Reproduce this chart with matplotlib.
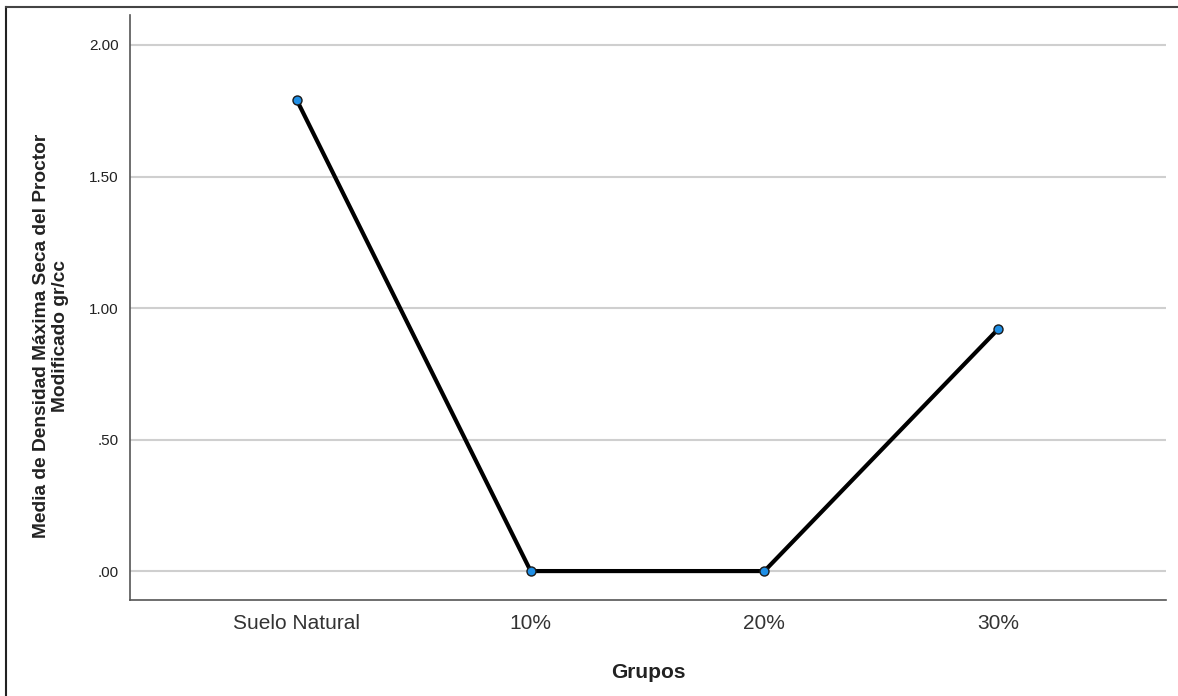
import matplotlib
matplotlib.use("Agg")
import matplotlib.pyplot as plt
from matplotlib.lines import Line2D

# datos
grupos = ["Suelo Natural", "10%", "20%", "30%"]
medias = [1.79, 0.0, 0.0, 0.92]
yticks = [0.0, 0.5, 1.0, 1.5, 2.0]
ytick_labels = [".00", ".50", "1.00", "1.50", "2.00"]

plt.rcParams['font.family'] = ['Liberation Sans', 'DejaVu Sans']

W, H = 1178, 696
fig = plt.figure(figsize=(W/100, H/100), dpi=100)
ax = fig.add_axes([130/W, 1-600/H, (1166-130)/W, (600-15)/H])

x = list(range(len(grupos)))
ax.plot(x, medias, color="black", lw=3, zorder=3)
ax.plot(x, medias, 'o', ms=6.5, mfc="#1f8fe6", mec="#1a1a1a", mew=1, zorder=4)

ax.set_xlim(-0.714, 3.718)
ax.set_ylim(-0.110, 2.114)
ax.set_yticks(yticks)
ax.set_yticklabels(ytick_labels, fontsize=11, color="#222222")
ax.set_xticks(x)
ax.set_xticklabels(grupos, fontsize=15, color="#333333")
ax.tick_params(axis='both', length=0)
ax.tick_params(axis='y', pad=8)
ax.tick_params(axis='x', pad=10)
ax.grid(axis='y', color="#cfcfcf", lw=1.5)
ax.set_axisbelow(True)

for s in ['top', 'right']:
    ax.spines[s].set_visible(False)
for s in ['left', 'bottom']:
    ax.spines[s].set_color("#555555")
    ax.spines[s].set_linewidth(1.2)

ax.set_xlabel("Grupos", fontsize=15, fontweight='bold', color="#222222", labelpad=22)
# etiqueta del eje y un poco por debajo del centro, como en el original
fig.text(51/W, 1-336/H, "Media de Densidad Máxima Seca del Proctor\nModificado gr/cc",
         rotation=90, ha='center', va='center', multialignment='center',
         fontsize=13.8, fontweight='bold', color="#222222")

# marco exterior (solo arriba e izquierda se ven)
fig.add_artist(Line2D([6/W, 6/W], [0, 1-7/H], transform=fig.transFigure, color="#222222", lw=1.5))
fig.add_artist(Line2D([6/W, 1], [1-7/H, 1-7/H], transform=fig.transFigure, color="#444444", lw=1.5))

fig.savefig("out.png", dpi=100)
